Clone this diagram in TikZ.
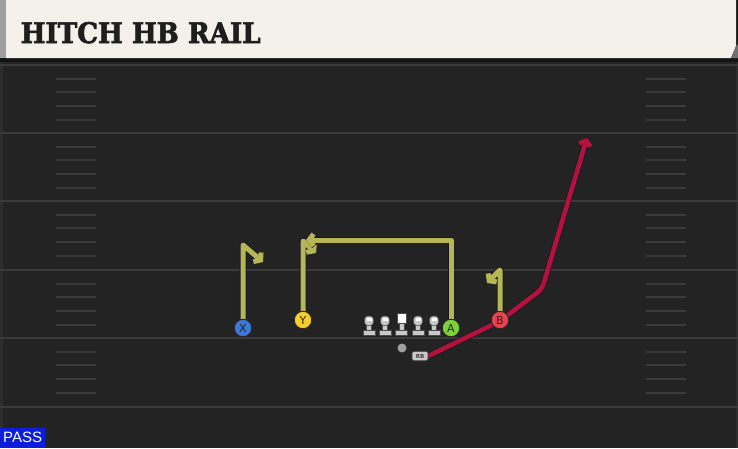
\documentclass[tikz,border=0pt]{standalone}
\usepackage{graphicx}
\usepackage{fontspec}
\newfontfamily\titlefont[BoldFeatures={FakeBold=2.5}]{DejaVu Serif}
\newfontfamily\labfont{DejaVu Sans}
\newfontfamily\passfont{Liberation Sans}
\usetikzlibrary{arrows.meta}
\definecolor{bg}{HTML}{232323}
\definecolor{cream}{HTML}{F4F1EA}
\definecolor{hdrgray}{HTML}{9E9E9E}
\definecolor{hdrshadow}{HTML}{141414}
\definecolor{yardc}{HTML}{3A3A3A}
\definecolor{hashc}{HTML}{3A3A3A}
\definecolor{routeyel}{HTML}{B7B654}
\definecolor{routeout}{HTML}{16162A}
\definecolor{rbroute}{HTML}{B3123C}
\definecolor{xblue}{HTML}{3B78D8}
\definecolor{yyel}{HTML}{F4CE2A}
\definecolor{agreen}{HTML}{7DD23A}
\definecolor{bred}{HTML}{E8424F}
\definecolor{lmgray}{HTML}{C8C8C8}
\definecolor{passblue}{HTML}{0C1EDC}
\definecolor{titlec}{HTML}{1E1E1E}
\definecolor{edgec}{HTML}{2D2D2D}
\tikzset{
  yard/.style={draw=yardc, line width=2pt},
  hash/.style={draw=hashc, line width=1.6pt},
  routeo/.style={draw=routeout, line width=6.6pt, line join=round},
  routey/.style={draw=routeyel, line width=5pt, line join=round},
  rbo/.style={draw=routeout, line width=6pt, line join=round},
  rbc/.style={draw=rbroute, line width=4.6pt, line join=round},
  barb/.style={-{Straight Barb[length=4.5pt,width=12pt]}},
  player/.style={circle, draw=black!85, line width=0.9pt, minimum size=17.5pt,
    inner sep=0pt, font=\labfont\fontsize{11}{11}\selectfont, text=black!85},
  rbbox/.style={draw=black!80, fill=lmgray, rounded corners=2pt, minimum width=16pt, minimum height=9.5pt,
    inner sep=0pt, line width=0.6pt, font=\labfont\bfseries\fontsize{5.5}{5.5}\selectfont, text=black!75},
  lm/.style={draw=black!70, fill=lmgray, line width=0.5pt},
}
\begin{document}
\begin{tikzpicture}[x=1pt,y=-1pt]
\useasboundingbox (0,0) rectangle (738,448);
\fill[bg] (0,0) rectangle (738,448);
% field borders
\fill[edgec] (0,62) rectangle (2.5,448);
\fill[edgec] (735.5,62) rectangle (738,448);
% yard lines
\foreach \yy in {65,133,201,270,338,407} \draw[yard] (0,\yy) -- (738,\yy);
% hash marks
\foreach \yy in {65,133,201,270,338} {
  \foreach \dd in {14,27,41,55} {
    \draw[hash] (56,{\yy+\dd}) -- (96,{\yy+\dd});
    \draw[hash] (646,{\yy+\dd}) -- (686,{\yy+\dd});
  }
}
% header
\fill[hdrshadow] (0,0) rectangle (738,62);
\fill[cream] (6,0) -- (736,0) -- (736,46) -- (731,58) -- (6,58) -- cycle;
\fill[hdrgray] (0,0) rectangle (6,58);
\fill[hdrgray!70!black] (738,44) -- (738,58) -- (731,58) -- (736,46) -- cycle;
\node[anchor=base west, inner sep=0pt, text=titlec] (title) at (20.5,43)
  {\resizebox{240pt}{21pt}{\titlefont\bfseries HITCH HB RAIL}};
% route corner coordinates
\coordinate (x1) at (243,245);
\coordinate (x2) at (263,262);
\coordinate (y1) at (303,241);
\coordinate (y2) at (316,253);
\coordinate (a1) at (451,240);
\coordinate (a2) at (306,240);
\coordinate (b1) at (500,270);
\coordinate (b2) at (487,283);
\coordinate (r1) at (500,321);
\coordinate (r2) at (542,289);
\coordinate (r3) at (587,138);
% players (placed first for names)
\node[player, fill=xblue] (X) at (243,328) {X};
\node[player, fill=yyel] (Y) at (303,320) {Y};
\node[player, fill=agreen] (A) at (451,328) {A};
\node[player, fill=bred] (B) at (500,320) {B};
\node[rbbox] (RB) at (420,356) {RB};
\node[circle, fill=gray!75, minimum size=9pt, inner sep=0pt] (QB) at (402,348) {};
% routes
\draw[routeo, barb] (X.center) -- (x1) -- (x2);
\draw[routey, barb] (X.center) -- (x1) -- (x2);
\draw[routeo, barb] (Y.center) -- (y1) -- (y2);
\draw[routey, barb] (Y.center) -- (y1) -- (y2);
\draw[routeo, barb] (A.center) -- (a1) -- (a2);
\draw[routey, barb] (A.center) -- (a1) -- (a2);
\draw[routeo, barb] (B.center) -- (b1) -- (b2);
\draw[routey, barb] (B.center) -- (b1) -- (b2);
\draw[rbo, barb, rounded corners=6pt] (RB.east) -- (r1) -- (r2) -- (r3);
\draw[rbc, barb, rounded corners=6pt] (RB.east) -- (r1) -- (r2) -- (r3);
% redraw players on top
\node[player, fill=xblue] at (X) {X};
\node[player, fill=yyel] at (Y) {Y};
\node[player, fill=agreen] at (A) {A};
\node[player, fill=bred] at (B) {B};
\node[rbbox] at (RB) {RB};
% linemen
\foreach \cx in {369,385,418,434} {
  \filldraw[lm] ({\cx-2.5},323) rectangle ({\cx+2.5},331);
  \filldraw[lm] ({\cx-6},330.5) rectangle ({\cx+6},335.5);
  \filldraw[lm, rounded corners=3.5pt] ({\cx-4.5},316) rectangle ({\cx+4.5},325.5);
  \fill[white!90!lmgray] ({\cx-2.5},317.5) rectangle ({\cx+2.5},320.5);
}
\filldraw[lm] (399,322) rectangle (404,330.5);
\filldraw[lm] (395.5,330.5) rectangle (407.5,335.5);
\filldraw[draw=black!70, fill=white, line width=0.5pt] (397,313) rectangle (406,323);
% pass label
\node[fill=passblue, text=white, anchor=south west, minimum width=45pt, minimum height=20pt,
  inner sep=0pt, font=\passfont\fontsize{15}{15}\selectfont] (pass) at (0,448) {PASS};
\end{tikzpicture}
\end{document}
